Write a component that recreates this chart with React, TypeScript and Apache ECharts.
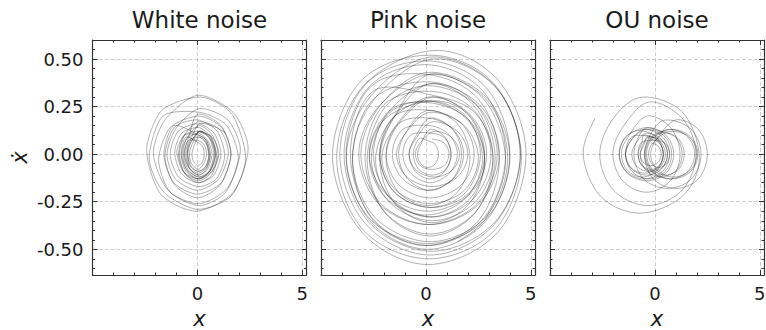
import React, { useEffect, useRef } from 'react';
import * as echarts from 'echarts';

// ---------- data ----------
const panelTitles = ['White noise', 'Pink noise', 'OU noise'];
const xRange = [-5, 5.2];
const yRange = [-0.635, 0.6];
const xMajorTicks = [-5, 0, 5];
const xMinorTicks = [-4, -3, -2, -1, 1, 2, 3, 4];
const xLabelTicks = [0, 5];
const yMajorTicks = [-0.5, -0.25, 0, 0.25, 0.5];
const yMinorTicks = [-0.6, -0.55, -0.45, -0.4, -0.35, -0.3, -0.2, -0.15, -0.1, -0.05,
  0.05, 0.1, 0.15, 0.2, 0.3, 0.35, 0.4, 0.45, 0.55];

// trajectories [x, xdot]
const whiteNoise = [
  [0.0, 0.12], [0.72, 0.09], [1.02, 0.0], [0.7, -0.09], [0.02, -0.13], [-0.68, -0.09], [-0.98, 0.01], [-0.7, 0.09],
  [0.05, 0.17], [1.05, 0.13], [1.48, 0.01], [1.02, -0.13], [0.0, -0.19], [-1.05, -0.13], [-1.45, 0.0], [-1.0, 0.14],
  [0.1, 0.24], [1.45, 0.18], [2.05, 0.02], [1.42, -0.18], [0.05, -0.26], [-1.4, -0.19], [-2.1, 0.0], [-1.55, 0.18],
  [0.0, 0.31], [1.7, 0.22], [2.42, 0.03], [1.72, -0.2], [-0.05, -0.3], [-1.75, -0.21], [-2.42, 0.02], [-1.7, 0.23],
  [0.15, 0.3], [1.65, 0.21], [2.3, -0.02], [1.6, -0.22], [0.0, -0.29], [-1.6, -0.2], [-2.3, -0.02], [-1.65, 0.2],
  [0.1, 0.22], [1.4, 0.15], [1.95, -0.02], [1.35, -0.2], [0.1, -0.27], [-1.3, -0.2], [-1.85, -0.03], [-1.3, 0.14],
  [0.05, 0.2], [1.15, 0.14], [1.6, 0.0], [1.1, -0.16], [0.0, -0.23], [-1.1, -0.16], [-1.55, -0.01], [-1.1, 0.14],
  [0.0, 0.18], [0.95, 0.12], [1.3, -0.01], [0.9, -0.13], [0.05, -0.17], [-0.9, -0.12], [-1.3, 0.0], [-0.92, 0.12],
  [0.02, 0.16], [0.8, 0.11], [1.12, 0.0], [0.78, -0.11], [0.0, -0.15], [-0.78, -0.1], [-1.08, 0.01], [-0.75, 0.11],
  [0.05, 0.14], [0.66, 0.09], [0.92, -0.01], [0.64, -0.1], [0.04, -0.14], [-0.6, -0.1], [-0.86, 0.0], [-0.6, 0.1],
  [0.08, 0.12], [0.6, 0.08], [0.84, 0.0], [0.58, -0.09], [0.06, -0.12], [-0.52, -0.08], [-0.76, 0.0], [-0.52, 0.08],
  [0.05, 0.11], [0.5, 0.07], [0.7, 0.0], [0.48, -0.08], [0.05, -0.11], [-0.42, -0.07], [-0.62, 0.0], [-0.45, 0.07],
  [0.05, 0.09], [0.4, 0.06], [0.55, -0.01], [0.38, -0.07], [0.02, -0.09], [-0.35, -0.06], [-0.48, 0.01], [-0.33, 0.06],
  [0.1, 0.12], [0.55, 0.09], [0.78, 0.0], [0.55, -0.09], [0.08, -0.13], [-0.48, -0.09], [-0.7, 0.0], [-0.48, 0.09],
  [0.1, 0.15], [0.72, 0.1], [0.98, 0.0], [0.68, -0.11], [0.05, -0.15], [-0.62, -0.1], [-0.9, 0.0], [-0.62, 0.1],
  [0.05, 0.1], [0.45, 0.07], [0.62, 0.0], [0.44, -0.07], [0.04, -0.1], [-0.4, -0.07], [-0.56, 0.0], [-0.38, 0.07],
  [0.05, 0.07], [0.32, 0.05], [0.44, 0.0], [0.3, -0.05], [0.03, -0.08], [-0.28, -0.05], [-0.38, 0.0], [-0.26, 0.05],
  [0.1, 0.12], [0.64, 0.09], [0.88, 0.0], [0.6, -0.09], [0.05, -0.13], [-0.55, -0.09], [-0.78, 0.0], [-0.55, 0.09],
  [0.05, 0.06], [0.25, 0.04], [0.33, 0.0], [0.24, -0.04], [0.04, -0.06], [-0.18, -0.04], [-0.26, 0.0], [-0.17, 0.04],
  [0.05, 0.09], [0.4, 0.065], [0.55, 0.0], [0.4, -0.065], [0.05, -0.09], [-0.3, -0.065], [-0.45, 0.0], [-0.3, 0.065],
  [0.1, 0.12], [0.62, 0.085], [0.85, 0.0], [0.62, -0.085], [0.1, -0.12], [-0.42, -0.085], [-0.65, 0.0], [-0.42, 0.085],
  [0.0, 0.21], [1.13, 0.15], [1.6, 0.0], [1.13, -0.15], [0.0, -0.21], [-1.13, -0.15], [-1.6, 0.0], [-1.13, 0.15],
  [0.06, 0.1], [0.42, 0.07], [0.6, -0.01], [0.42, -0.08], [0.05, -0.11], [-0.35, -0.08], [-0.5, 0.0], [-0.35, 0.07],
  [0.1, 0.16], [0.9, 0.14], [1.35, 0.11],
];

const pinkNoise = [
  [0.3, 0.08], [0.87, 0.06], [1.1, 0.0], [0.87, -0.06], [0.3, -0.08], [-0.27, -0.06], [-0.5, 0.0], [-0.27, 0.06],
  [0.4, 0.12], [1.25, 0.085], [1.6, 0.0], [1.25, -0.085], [0.4, -0.12], [-0.45, -0.085], [-0.8, 0.0], [-0.45, 0.085],
  [0.3, 0.17], [1.5, 0.12], [2.0, 0.0], [1.5, -0.12], [0.3, -0.17], [-0.9, -0.12], [-1.4, 0.0], [-0.9, 0.12],
  [0.2, 0.22], [1.83, 0.15], [2.5, -0.02], [1.83, -0.19], [0.2, -0.26], [-1.43, -0.19], [-2.1, -0.02], [-1.43, 0.15],
  [0.1, 0.3], [2.09, 0.21], [2.9, 0.0], [2.09, -0.21], [0.1, -0.3], [-1.89, -0.21], [-2.7, 0.0], [-1.89, 0.21],
  [0.2, 0.37], [2.55, 0.26], [3.5, 0.0], [2.55, -0.26], [0.2, -0.37], [-2.15, -0.26], [-3.1, 0.0], [-2.15, 0.26],
  [0.1, 0.43], [2.87, 0.3], [4.0, -0.02], [2.87, -0.34], [0.1, -0.47], [-2.67, -0.34], [-3.8, -0.02], [-2.67, 0.3],
  [0.2, 0.51], [3.27, 0.36], [4.55, -0.02], [3.27, -0.4], [0.15, -0.55], [-2.97, -0.4], [-4.25, -0.02], [-2.97, 0.36],
  [0.4, 0.545], [3.43, 0.39], [4.77, 0.0], [3.43, -0.41], [0.1, -0.58], [-3.05, -0.41], [-4.45, -0.01], [-3.05, 0.39],
  [0.3, 0.52], [3.25, 0.37], [4.5, 0.0], [3.25, -0.37], [0.2, -0.53], [-2.85, -0.37], [-4.1, 0.0], [-2.85, 0.37],
  [0.1, 0.49], [2.87, 0.35], [4.0, 0.0], [2.87, -0.35], [0.1, -0.5], [-2.67, -0.35], [-3.8, 0.0], [-2.67, 0.35],
  [0.0, 0.42], [2.5, 0.29], [3.5, -0.03], [2.5, -0.35], [0.0, -0.48], [-2.5, -0.35], [-3.5, -0.03], [-2.5, 0.29],
  [0.2, 0.38], [2.4, 0.26], [3.3, -0.02], [2.4, -0.3], [0.2, -0.42], [-2.0, -0.3], [-2.9, -0.02], [-2.0, 0.26],
  [0.3, 0.33], [2.3, 0.23], [3.1, 0.0], [2.3, -0.23], [0.3, -0.33], [-1.7, -0.23], [-2.5, 0.0], [-1.7, 0.23],
  [0.2, 0.27], [2.05, 0.18], [2.8, -0.03], [2.05, -0.24], [0.2, -0.33], [-1.65, -0.24], [-2.4, -0.03], [-1.65, 0.18],
  [0.0, 0.28], [1.9, 0.19], [2.7, -0.02], [1.9, -0.23], [0.0, -0.32], [-1.9, -0.23], [-2.7, -0.02], [-1.9, 0.19],
  [0.4, 0.28], [2.1, 0.2], [2.8, 0.0], [2.1, -0.2], [0.3, -0.28], [-1.5, -0.2], [-2.2, 0.0], [-1.5, 0.2],
  [0.2, 0.23], [1.7, 0.16], [2.3, 0.0], [1.7, -0.16], [0.2, -0.23], [-1.3, -0.16], [-1.9, 0.0], [-1.3, 0.16],
  [0.1, 0.19], [1.3, 0.13], [1.8, 0.0], [1.3, -0.13], [0.1, -0.19], [-1.1, -0.13], [-1.6, 0.0], [-1.1, 0.13],
  [0.2, 0.15], [1.12, 0.1], [1.5, 0.0], [1.12, -0.1], [0.2, -0.15], [-0.72, -0.1], [-1.1, 0.0], [-0.72, 0.1],
  [0.3, 0.11], [0.94, 0.08], [1.2, 0.0], [0.94, -0.08], [0.3, -0.11], [-0.34, -0.08], [-0.6, 0.0], [-0.34, 0.08],
  [0.1, 0.07], [0.45, 0.05], [0.6, 0.0], [0.45, -0.05], [0.1, -0.07], [-0.25, -0.05], [-0.4, 0.0], [-0.25, 0.05],
  [0.2, 0.13], [0.9, 0.09], [1.2, 0.0], [0.9, -0.09], [0.2, -0.13], [-0.5, -0.09], [-0.8, 0.0], [-0.5, 0.09],
  [0.2, 0.19], [1.27, 0.13], [1.7, 0.0], [1.27, -0.13], [0.2, -0.19], [-0.87, -0.13], [-1.3, 0.0], [-0.87, 0.13],
  [0.1, 0.23], [1.5, 0.16], [2.1, -0.02], [1.5, -0.2], [0.1, -0.27], [-1.3, -0.2], [-1.9, -0.02], [-1.3, 0.16],
  [0.3, 0.3], [2.07, 0.2], [2.8, -0.03], [2.07, -0.26], [0.3, -0.36], [-1.47, -0.26], [-2.2, -0.03], [-1.47, 0.2],
  [0.2, 0.37], [2.33, 0.25], [3.2, -0.03], [2.33, -0.31], [0.2, -0.43], [-1.93, -0.31], [-2.8, -0.03], [-1.93, 0.25],
  [0.1, 0.36], [2.45, 0.255], [3.4, 0.0], [2.45, -0.26], [0.1, -0.37], [-2.25, -0.26], [-3.2, 0.0], [-2.25, 0.25],
  [0.2, 0.42], [2.85, 0.29], [3.9, -0.02], [2.85, -0.33], [0.2, -0.46], [-2.45, -0.33], [-3.5, -0.02], [-2.45, 0.29],
  [0.3, 0.5], [3.3, 0.355], [4.5, 0.0], [3.3, -0.355], [0.3, -0.51], [-2.7, -0.36], [-3.9, 0.0], [-2.7, 0.355],
  [0.1, 0.47], [2.73, 0.33], [3.8, 0.0], [2.73, -0.34], [0.1, -0.48], [-2.53, -0.34], [-3.6, 0.0], [-2.53, 0.33],
  [0.3, 0.31], [2.36, 0.215], [3.2, -0.02], [2.36, -0.25], [0.3, -0.35], [-1.76, -0.25], [-2.6, -0.02], [-1.76, 0.215],
  [0.2, 0.28], [1.9, 0.2], [2.6, 0.0], [1.9, -0.2], [0.2, -0.28], [-1.5, -0.2], [-2.2, 0.0], [-1.5, 0.2],
  [0.2, 0.42], [2.75, 0.29], [3.8, -0.03], [2.9, -0.33], [1.52, -0.46],
];

const ouNoise = [
  [-0.2, 0.06], [0.15, 0.043], [0.3, 0.0], [0.15, -0.043], [-0.2, -0.06], [-0.55, -0.043], [-0.7, 0.0], [-0.55, 0.043],
  [-0.3, 0.09], [0.27, 0.064], [0.5, 0.0], [0.27, -0.064], [-0.3, -0.09], [-0.87, -0.064], [-1.1, 0.0], [-0.87, 0.064],
  [-0.4, 0.11], [0.31, 0.078], [0.6, 0.0], [0.31, -0.078], [-0.4, -0.11], [-1.11, -0.078], [-1.4, 0.0], [-1.11, 0.078],
  [-0.5, 0.13], [0.35, 0.092], [0.7, 0.0], [0.35, -0.092], [-0.5, -0.13], [-1.35, -0.092], [-1.7, 0.0], [-1.35, 0.092],
  [-0.4, 0.14], [0.52, 0.1], [0.9, 0.0], [0.52, -0.1], [-0.4, -0.14], [-1.32, -0.1], [-1.7, 0.0], [-1.32, 0.1],
  [-0.3, 0.13], [0.48, 0.092], [0.8, 0.0], [0.48, -0.092], [-0.3, -0.13], [-1.08, -0.092], [-1.4, 0.0], [-1.08, 0.092],
  [-0.1, 0.09], [0.4, 0.064], [0.6, 0.0], [0.4, -0.064], [-0.1, -0.09], [-0.6, -0.064], [-0.8, 0.0], [-0.6, 0.064],
  [0.2, 0.07], [0.55, 0.05], [0.7, 0.0], [0.55, -0.05], [0.2, -0.07], [-0.15, -0.05], [-0.3, 0.0], [-0.15, 0.05],
  [0.5, 0.11], [1.14, 0.078], [1.4, 0.0], [1.14, -0.078], [0.5, -0.11], [-0.14, -0.078], [-0.4, 0.0], [-0.14, 0.078],
  [0.7, 0.13], [1.55, 0.092], [1.9, 0.0], [1.55, -0.092], [0.7, -0.13], [-0.15, -0.092], [-0.5, 0.0], [-0.15, 0.092],
  [0.8, 0.13], [1.69, 0.092], [2.05, 0.0], [1.69, -0.092], [0.8, -0.13], [-0.09, -0.092], [-0.45, 0.0], [-0.09, 0.092],
  [0.9, 0.12], [1.68, 0.085], [2.0, 0.0], [1.68, -0.085], [0.9, -0.12], [0.12, -0.085], [-0.2, 0.0], [0.12, 0.085],
  [1.0, 0.18], [2.07, 0.13], [2.5, 0.0], [2.07, -0.13], [1.0, -0.18], [-0.07, -0.13], [-0.5, 0.0], [-0.07, 0.13],
  [0.6, 0.18], [1.74, 0.13], [2.2, 0.0], [1.74, -0.13], [0.6, -0.18], [-0.54, -0.13], [-1.0, 0.0], [-0.54, 0.13],
  [0.3, 0.12], [1.01, 0.085], [1.3, 0.0], [1.01, -0.085], [0.3, -0.12], [-0.41, -0.085], [-0.7, 0.0], [-0.41, 0.085],
  [-0.2, 0.08], [0.23, 0.057], [0.4, 0.0], [0.23, -0.057], [-0.2, -0.08], [-0.63, -0.057], [-0.8, 0.0], [-0.63, 0.057],
  [-0.5, 0.1], [0.14, 0.071], [0.4, 0.0], [0.14, -0.071], [-0.5, -0.1], [-1.14, -0.071], [-1.4, 0.0], [-1.14, 0.071],
  [-0.6, 0.12], [0.11, 0.085], [0.4, 0.0], [0.11, -0.085], [-0.6, -0.12], [-1.31, -0.085], [-1.6, 0.0], [-1.31, 0.085],
  [-0.4, 0.2], [0.74, 0.14], [1.2, 0.0], [0.74, -0.14], [-0.4, -0.2], [-1.54, -0.14], [-2.0, 0.0], [-1.54, 0.14],
  [-0.3, 0.274], [1.29, 0.19], [1.96, 0.0], [1.29, -0.19], [-0.34, -0.27], [-1.97, -0.19], [-2.63, 0.0], [-1.97, 0.19],
  [-0.6, 0.3], [1.32, 0.22], [2.12, -0.02], [1.32, -0.22], [-0.73, -0.31], [-2.6, -0.22], [-3.42, 0.0], [-2.86, 0.19],
];

const trajectories = [whiteNoise, pinkNoise, ouNoise];

// ---------- layout / style ----------
const FONT = 'DejaVu Sans';
const INK = '#1a1a1a';
const FRAME = '#333333';
const gridLefts = [92.5, 321, 550];
const GRID_W = 214;
const GRID_TOP = 40;
const GRID_H = 235;
const LINE_COLOR = 'rgba(0,0,0,0.3)';
const panelTension = [0.13, 0.17, 0.17];

const tickStyle = { color: FRAME, width: 1 };
const gridLineStyle = { color: '#cfcfcf', width: 1, type: [4, 2] };

function xAxesFor(p: number) {
  const base: any = {
    type: 'value', gridIndex: p, min: xRange[0], max: xRange[1],
    splitLine: { show: false }, axisLabel: { show: false },
    axisLine: { show: false, onZero: false }, axisTick: { show: false },
  };
  const frameLine = { show: true, onZero: false, lineStyle: { color: FRAME, width: 1.2 } };
  return [
    {
      ...base, position: 'bottom',
      axisLine: frameLine,
      axisTick: { show: true, inside: true, length: 5, customValues: xMajorTicks, lineStyle: tickStyle },
      axisLabel: { show: true, customValues: xLabelTicks, margin: 9, fontSize: 18, fontFamily: FONT, color: INK },
      splitLine: { show: true, lineStyle: gridLineStyle },
      name: 'x', nameLocation: 'middle', nameGap: 33,
      nameTextStyle: { fontSize: 21, fontStyle: 'italic', fontFamily: FONT, color: INK },
    },
    {
      ...base, position: 'bottom',
      axisTick: { show: true, inside: true, length: 2.5, customValues: xMinorTicks, lineStyle: tickStyle },
    },
    {
      ...base, position: 'top',
      axisLine: frameLine,
      axisTick: { show: true, inside: true, length: 5, customValues: xMajorTicks, lineStyle: tickStyle },
      name: panelTitles[p], nameLocation: 'middle', nameGap: 9,
      nameTextStyle: { fontSize: 23, fontFamily: FONT, color: INK },
    },
    {
      ...base, position: 'top',
      axisTick: { show: true, inside: true, length: 2.5, customValues: xMinorTicks, lineStyle: tickStyle },
    },
  ];
}

function yAxesFor(p: number) {
  const base: any = {
    type: 'value', gridIndex: p, min: yRange[0], max: yRange[1],
    splitLine: { show: false }, axisLabel: { show: false },
    axisLine: { show: false, onZero: false }, axisTick: { show: false },
  };
  const frameLine = { show: true, onZero: false, lineStyle: { color: FRAME, width: 1.2 } };
  const main: any = {
    ...base, position: 'left',
    axisLine: frameLine,
    axisTick: { show: true, inside: true, length: 5, customValues: yMajorTicks, lineStyle: tickStyle },
    splitLine: { show: true, lineStyle: gridLineStyle },
    axisLabel: {
      show: p === 0, customValues: yMajorTicks, margin: 9, fontSize: 18, fontFamily: FONT, color: INK,
      formatter: (v: number) => v.toFixed(2),
    },
  };
  if (p === 0) {
    main.name = 'ẋ';
    main.nameLocation = 'middle';
    main.nameGap = 62;
    main.nameTextStyle = { fontSize: 21, fontStyle: 'italic', fontFamily: FONT, color: INK };
  }
  return [
    main,
    { ...base, position: 'left', axisTick: { show: true, inside: true, length: 2.5, customValues: yMinorTicks, lineStyle: tickStyle } },
    {
      ...base, position: 'right', axisLine: frameLine,
      axisTick: { show: true, inside: true, length: 5, customValues: yMajorTicks, lineStyle: tickStyle },
    },
    { ...base, position: 'right', axisTick: { show: true, inside: true, length: 2.5, customValues: yMinorTicks, lineStyle: tickStyle } },
  ];
}

// each segment item carries its neighbours so the curve stays smooth through the joints
function segmentItems(data: number[][]) {
  const items: number[][] = [];
  const n = data.length;
  for (let i = 0; i < n - 1; i++) {
    const p0 = data[Math.max(i - 1, 0)];
    const p1 = data[i];
    const p2 = data[i + 1];
    const p3 = data[Math.min(i + 2, n - 1)];
    items.push([p0[0], p0[1], p1[0], p1[1], p2[0], p2[1], p3[0], p3[1]]);
  }
  return items;
}

function trajectorySeries(data: number[][], p: number) {
  const t = panelTension[p];
  return {
    type: 'custom',
    coordinateSystem: 'cartesian2d',
    xAxisIndex: 4 * p,
    yAxisIndex: 4 * p,
    silent: true,
    clip: true,
    encode: { x: [0, 2, 4, 6], y: [1, 3, 5, 7] },
    data: segmentItems(data),
    renderItem: (_params: any, api: any) => {
      const c = [0, 1, 2, 3].map((k) => api.coord([api.value(2 * k), api.value(2 * k + 1)]));
      return {
        type: 'bezierCurve',
        silent: true,
        shape: {
          x1: c[1][0], y1: c[1][1],
          x2: c[2][0], y2: c[2][1],
          cpx1: c[1][0] + (c[2][0] - c[0][0]) * t,
          cpy1: c[1][1] + (c[2][1] - c[0][1]) * t,
          cpx2: c[2][0] - (c[3][0] - c[1][0]) * t,
          cpy2: c[2][1] - (c[3][1] - c[1][1]) * t,
        },
        style: { stroke: LINE_COLOR, lineWidth: 1, fill: 'none', lineCap: 'butt' },
      };
    },
  };
}

function buildOption() {
  const grid = gridLefts.map((left) => ({
    left, top: GRID_TOP, width: GRID_W, height: GRID_H,
    containLabel: false, outerBoundsMode: 'none', show: false,
  }));
  const xAxis: any[] = [];
  const yAxis: any[] = [];
  const series: any[] = [];
  for (let p = 0; p < 3; p++) {
    xAxis.push(...xAxesFor(p));
    yAxis.push(...yAxesFor(p));
    series.push(trajectorySeries(trajectories[p], p));
  }
  return {
    animation: false,
    backgroundColor: '#ffffff',
    textStyle: { fontFamily: FONT },
    grid,
    xAxis,
    yAxis,
    series,
  };
}

export default function App() {
  const ref = useRef<HTMLDivElement>(null);
  useEffect(() => {
    const chart = echarts.init(ref.current as HTMLDivElement, null, { renderer: 'svg' });
    chart.setOption(buildOption() as any);
    return () => chart.dispose();
  }, []);
  return (
    <div
      ref={ref}
      style={{ position: 'fixed', left: 0, top: 0, width: 766, height: 330, background: '#fff' }}
    />
  );
}
